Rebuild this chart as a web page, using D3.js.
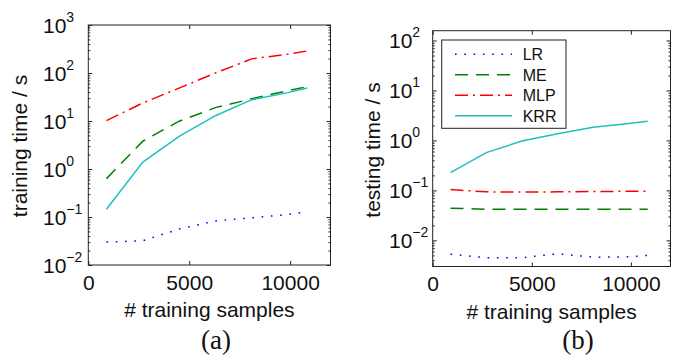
<!DOCTYPE html>
<html><head><meta charset="utf-8">
<script src="https://cdn.jsdelivr.net/npm/d3@7"></script>
<style>body{margin:0;background:#fff}svg{display:block}</style>
</head><body><svg id="c" width="679" height="357"></svg>
<script>
// ---- data ----
const samples = [900, 2700, 4500, 6300, 8100, 9900, 10850];
const seriesNames = ["LR", "ME", "MLP", "KRR"];
const trainLR  = [0.030, 0.032, 0.056, 0.083, 0.096, 0.113, 0.128];
const trainME  = [0.63, 3.8, 9.9, 19, 29, 43, 52];
const trainMLP = [10.2, 23.7, 48.5, 100, 197, 247, 288];
const trainKRR = [0.145, 1.39, 4.8, 12.9, 27.8, 39, 48.5];
const testLR   = [0.0053, 0.0045, 0.0045, 0.0054, 0.0046, 0.0047, 0.0050];
const testME   = [0.044, 0.042, 0.042, 0.042, 0.042, 0.042, 0.042];
const testMLP  = [0.104, 0.0935, 0.093, 0.0935, 0.095, 0.096, 0.096];
const testKRR  = [0.227, 0.57, 0.97, 1.36, 1.84, 2.18, 2.43];
const xTicks = [0, 5000, 10000];
const trainYTicks = [1e-2, 1e-1, 1e0, 1e1, 1e2, 1e3];
const testYTicks  = [1e-2, 1e-1, 1e0, 1e1, 1e2];
const xLabel = "# training samples";
const trainYLabel = "training time / s";
const testYLabel = "testing time / s";

// ---- styles ----
const styles = {
  LR:  {color: "#0000ff", dash: "1.6,7.7"},
  ME:  {color: "#008000", dash: "13,8"},
  MLP: {color: "#ff0000", dash: "13,5,2,5"},
  KRR: {color: "#1fbfbf", dash: null}
};
const FONT = "'Liberation Sans', Arial, Helvetica, sans-serif";
const FS = 21;
const svg = d3.select("#c");

function panel(opts) {
  const {left, right, top, bottom, yDomain, yTicks, series, yLabel, yLabelX, yLabelY, tickLabelStart, tag, tagX} = opts;
  const x = d3.scaleLinear().domain([0, 12000]).range([left, right]);
  const y = d3.scaleLog().domain(yDomain).range([bottom, top]);
  const g = svg.append("g");

  const minor = [];
  const lo = Math.floor(Math.log10(yDomain[0])), hi = Math.ceil(Math.log10(yDomain[1]));
  for (let d = lo; d <= hi; d++) for (let k = 2; k <= 9; k++) {
    const v = k * Math.pow(10, d);
    if (v > yDomain[0] && v < yDomain[1]) minor.push(v);
  }

  function styleAxis(sel) {
    sel.select(".domain").remove();
    sel.selectAll(".tick line").attr("stroke", "#222").attr("stroke-width", 1);
  }
  g.append("g").attr("transform", `translate(0,${bottom})`)
    .call(d3.axisBottom(x).tickValues(xTicks).tickSize(-4).tickPadding(10).tickFormat(d3.format("d")))
    .call(styleAxis)
    .call(s => s.selectAll("text").attr("font-family", FONT).attr("font-size", FS).attr("fill", "#111"));
  g.append("g").attr("transform", `translate(0,${top})`)
    .call(d3.axisTop(x).tickValues(xTicks).tickSize(-4).tickFormat(""))
    .call(styleAxis);
  g.append("g").attr("transform", `translate(${left},0)`)
    .call(d3.axisLeft(y).tickValues(yTicks).tickSize(-4).tickFormat(""))
    .call(styleAxis);
  g.append("g").attr("transform", `translate(${right},0)`)
    .call(d3.axisRight(y).tickValues(yTicks).tickSize(-4).tickFormat(""))
    .call(styleAxis);
  g.append("g").attr("transform", `translate(${left},0)`)
    .call(d3.axisLeft(y).tickValues(minor).tickSize(-2).tickFormat(""))
    .call(styleAxis);
  g.append("g").attr("transform", `translate(${right},0)`)
    .call(d3.axisRight(y).tickValues(minor).tickSize(-2).tickFormat(""))
    .call(styleAxis);

  yTicks.forEach(v => {
    const e = Math.round(Math.log10(v));
    const t = g.append("text")
      .attr("x", tickLabelStart).attr("y", y(v) + 7.5)
      .attr("font-family", FONT).attr("font-size", FS).attr("fill", "#111");
    t.append("tspan").text("10");
    t.append("tspan").attr("dy", -11).attr("font-size", 14).text(e < 0 ? "\u2212" + (-e) : String(e));
  });

  g.append("rect").attr("x", left).attr("y", top).attr("width", right - left).attr("height", bottom - top)
    .attr("fill", "none").attr("stroke", "#222").attr("stroke-width", 1);

  const line = d3.line().x((d, i) => x(samples[i])).y(d => y(d));
  seriesNames.forEach((name, i) => {
    const st = styles[name];
    g.append("path").datum(series[i]).attr("d", line)
      .attr("fill", "none").attr("stroke", st.color).attr("stroke-width", 1.5)
      .attr("stroke-dasharray", st.dash);
  });

  g.append("text").attr("x", (left + right) / 2).attr("y", bottom + 52)
    .attr("text-anchor", "middle").attr("font-family", FONT).attr("font-size", FS).attr("fill", "#111")
    .text(xLabel);
  g.append("text").attr("transform", `translate(${yLabelX},${yLabelY}) rotate(-90)`)
    .attr("text-anchor", "middle").attr("font-family", FONT).attr("font-size", FS).attr("fill", "#111")
    .text(yLabel);
  g.append("text").attr("x", tagX).attr("y", 349)
    .attr("text-anchor", "middle").attr("font-family", "'Liberation Serif', 'Times New Roman', serif")
    .attr("font-size", 27).attr("fill", "#111").text(tag);
  return {g, x, y};
}

panel({left: 88.3, right: 330.5, top: 25, bottom: 265, yDomain: [1e-2, 1e3], yTicks: trainYTicks,
  series: [trainLR, trainME, trainMLP, trainKRR], yLabel: trainYLabel, yLabelX: 27, yLabelY: 146,
  tickLabelStart: 43, tag: "(a)", tagX: 216});

const p2 = panel({left: 432.7, right: 670.5, top: 30.7, bottom: 266.5, yDomain: [3e-3, 157], yTicks: testYTicks,
  series: [testLR, testME, testMLP, testKRR], yLabel: testYLabel, yLabelX: 380, yLabelY: 150,
  tickLabelStart: 389, tag: "(b)", tagX: 578});

const lg = p2.g.append("g");
lg.append("rect").attr("x", 441.7).attr("y", 40).attr("width", 124.3).attr("height", 88.3)
  .attr("fill", "#fff").attr("stroke", "#222").attr("stroke-width", 1);
const legY = d3.scalePoint().domain(seriesNames).range([54.3, 115.7]);
seriesNames.forEach(name => {
  const st = styles[name];
  lg.append("line").attr("x1", 455).attr("x2", 512).attr("y1", legY(name)).attr("y2", legY(name))
    .attr("stroke", st.color).attr("stroke-width", 1.5).attr("stroke-dasharray", st.dash);
  lg.append("text").attr("x", 522.7).attr("y", legY(name) + 6)
    .attr("font-family", FONT).attr("font-size", 16).attr("fill", "#111").text(name);
});
</script></body></html>
